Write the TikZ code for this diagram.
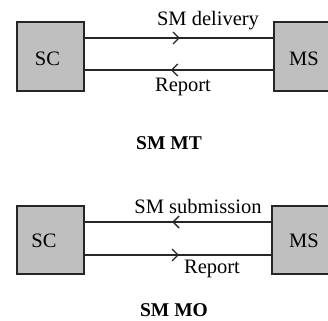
\documentclass[tikz,border=0pt]{standalone}
\usepackage{fontspec}
\setmainfont{Liberation Serif}
\usetikzlibrary{arrows.meta,decorations.markings}
\begin{document}
\begin{tikzpicture}[x=1pt,y=1pt,
  font=\fontsize{20.5}{24}\selectfont,
  entity/.style={draw=black!85,line width=1.6pt,fill=black!25,minimum width=67pt,minimum height=69pt,inner sep=0pt},
  link/.style={line width=1.3pt,draw=black!85},
  tip/.style={postaction={decorate},decoration={markings,mark=at position #1 with {\arrow{Straight Barb[length=6pt,width=12pt,line width=1.3pt]}}}},
  lbl/.style={inner sep=0pt},
  caption/.style={inner sep=0pt,font=\fontsize{19.5}{22}\selectfont\bfseries}]
\clip (0,0) rectangle (328,320);
\fill[white] (0,0) rectangle (328,320);

% Mobile terminated: SC -> MS
\node[entity] (sc1) at (50.5,263.5) {};
\node[entity] (ms1) at (307.5,263.5) {};
\node[lbl] (sc1t) at (47.5,261) {SC};
\node[lbl] (ms1t) at (304,261) {MS};
\coordinate (a1) at (sc1.east |- 0,282);
\coordinate (b1) at (ms1.west |- 0,282);
\coordinate (a2) at (sc1.east |- 0,250);
\coordinate (b2) at (ms1.west |- 0,250);
\draw[link,tip=0.505] (a1) -- (b1);
\draw[link,tip=0.543] (b2) -- (a2);
\node[lbl] (l1) at (208,299) {SM delivery};
\node[lbl] (l2) at (183,233) {Report};
\node[caption] (c1) at (169,177) {SM MT};

% Mobile originated: MS -> SC
\node[entity,minimum height=68pt] (sc2) at (50.5,80) {};
\node[entity,minimum height=68pt] (ms2) at (305.5,80) {};
\node[lbl] (sc2t) at (44,79) {SC};
\node[lbl] (ms2t) at (304,79) {MS};
\coordinate (c2a) at (sc2.east |- 0,98);
\coordinate (c2b) at (ms2.west |- 0,98);
\coordinate (c3a) at (sc2.east |- 0,65);
\coordinate (c3b) at (ms2.west |- 0,65);
\draw[link,tip=0.531] (c2b) -- (c2a);
\draw[link,tip=0.505] (c3a) -- (c3b);
\node[lbl] (l3) at (198,114) {SM submission};
\node[lbl] (l4) at (212,51) {Report};
\node[caption] (c2) at (174,10) {SM MO};
\end{tikzpicture}
\end{document}
